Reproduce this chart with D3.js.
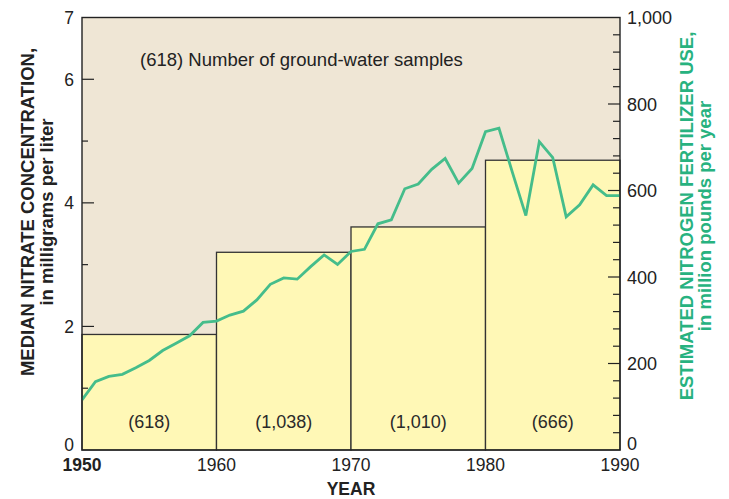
<!DOCTYPE html>
<html>
<head>
<meta charset="utf-8">
<script src="https://cdn.jsdelivr.net/npm/d3@7"></script>
<style>
  body { margin: 0; background: #fff; }
  svg text { font-family: "Liberation Sans", Arial, sans-serif; }
</style>
</head>
<body>
<svg id="chart" width="729" height="499"></svg>
<script>
// Decade bars: median nitrate concentration and sample counts
var decadeStarts = [1950, 1960, 1970, 1980];
var medianNitrate = [1.87, 3.2, 3.61, 4.69];
var sampleLabels = ["(618)", "(1,038)", "(1,010)", "(666)"];

// Yearly nitrogen fertilizer use, million pounds
var years = d3.range(1950, 1991);
var fertilizer = [
    116, 158, 170, 175, 190, 207, 230, 247, 264, 295,
    298, 312, 321, 347, 383, 398, 395, 424, 451, 429,
    459, 464, 523, 532, 604, 615, 649, 674, 617, 651,
    736, 744, 642, 542, 713, 676, 539, 567, 613, 588,
    588
];

var leftTicks = [0, 2, 4, 6, 7];
var leftMinor = [1, 3, 5];
var rightTicks = [0, 200, 400, 600, 800, 1000];
var xTicks = [1950, 1960, 1970, 1980, 1990];

var svg = d3.select("#chart");
var plotLeft = 82, plotRight = 620, plotTop = 17.5, plotBottom = 450;

var xScale = d3.scaleLinear().domain([1950, 1990]).range([plotLeft, plotRight]);
var yLeft = d3.scaleLinear().domain([0, 7]).range([plotBottom, plotTop]);
var yRight = d3.scaleLinear().domain([0, 1000]).range([plotBottom, plotTop]);

// Plot background
svg.append("rect")
    .attr("x", plotLeft)
    .attr("y", plotTop)
    .attr("width", plotRight - plotLeft)
    .attr("height", plotBottom - plotTop)
    .attr("fill", "#efe6d5");

// Decade bars
svg.selectAll("rect.bar")
    .data(decadeStarts)
    .enter()
    .append("rect")
    .attr("class", "bar")
    .attr("x", d => xScale(d))
    .attr("y", (d, i) => yLeft(medianNitrate[i]))
    .attr("width", d => xScale(d + 10) - xScale(d))
    .attr("height", (d, i) => plotBottom - yLeft(medianNitrate[i]))
    .attr("fill", "#fff8b6")
    .attr("stroke", "#333")
    .attr("stroke-width", 1.3);

svg.selectAll("text.count")
    .data(decadeStarts)
    .enter()
    .append("text")
    .attr("class", "count")
    .attr("x", d => xScale(d + 5))
    .attr("y", 428)
    .attr("text-anchor", "middle")
    .attr("font-size", 18)
    .attr("fill", "#2a2a2a")
    .text((d, i) => sampleLabels[i]);

// Fertilizer line
var line = d3.line()
    .x(d => xScale(d))
    .y((d, i) => yRight(fertilizer[i]));

svg.append("path")
    .datum(years)
    .attr("d", line)
    .attr("fill", "none")
    .attr("stroke", "#45bd8b")
    .attr("stroke-width", 2.8)
    .attr("stroke-linejoin", "miter");

// Frame
svg.append("rect")
    .attr("x", plotLeft)
    .attr("y", plotTop)
    .attr("width", plotRight - plotLeft)
    .attr("height", plotBottom - plotTop)
    .attr("fill", "none")
    .attr("stroke", "#222")
    .attr("stroke-width", 1.4);

// Left axis ticks (inward)
svg.selectAll("line.lmaj")
    .data([2, 4, 6])
    .enter()
    .append("line")
    .attr("x1", plotLeft).attr("x2", plotLeft + 12)
    .attr("y1", d => yLeft(d)).attr("y2", d => yLeft(d))
    .attr("stroke", "#222").attr("stroke-width", 1.2);

svg.selectAll("line.lmin")
    .data(leftMinor)
    .enter()
    .append("line")
    .attr("x1", plotLeft).attr("x2", plotLeft + 6)
    .attr("y1", d => yLeft(d)).attr("y2", d => yLeft(d))
    .attr("stroke", "#222").attr("stroke-width", 1.2);

svg.selectAll("text.lt")
    .data(leftTicks)
    .enter()
    .append("text")
    .attr("x", 74)
    .attr("y", d => d === 0 ? yLeft(d) + 1 : yLeft(d) + 6.5)
    .attr("text-anchor", "end")
    .attr("font-size", 17.5)
    .attr("fill", "#222")
    .text(d => d);

// Right axis ticks (inward), minor every 40
svg.selectAll("line.rt")
    .data(d3.range(40, 1000, 40))
    .enter()
    .append("line")
    .attr("x1", d => d % 200 === 0 ? plotRight - 12 : plotRight - 7)
    .attr("x2", plotRight)
    .attr("y1", d => yRight(d)).attr("y2", d => yRight(d))
    .attr("stroke", "#222").attr("stroke-width", 1.2);

svg.selectAll("text.rtl")
    .data(rightTicks)
    .enter()
    .append("text")
    .attr("x", 627)
    .attr("y", d => d === 0 ? yRight(d) : yRight(d) + 6.5)
    .attr("font-size", 18)
    .attr("fill", "#222")
    .text(d => d3.format(",")(d));

// Bottom axis labels
svg.selectAll("text.xt")
    .data(xTicks)
    .enter()
    .append("text")
    .attr("x", d => xScale(d))
    .attr("y", 470.5)
    .attr("text-anchor", "middle")
    .attr("font-size", 17.5)
    .attr("font-weight", d => d === 1950 ? "bold" : "normal")
    .attr("fill", "#222")
    .text(d => d);

svg.append("text")
    .attr("x", 351)
    .attr("y", 495)
    .attr("text-anchor", "middle")
    .attr("font-size", 17.5)
    .attr("font-weight", "bold")
    .attr("fill", "#222")
    .text("YEAR");

// Left axis title
var lt = svg.append("text")
    .attr("transform", "translate(33.5,212) rotate(-90)")
    .attr("text-anchor", "middle")
    .attr("font-size", 18.5)
    .attr("font-weight", "bold")
    .attr("fill", "#222");
lt.append("tspan").attr("x", 0).attr("y", 0).text("MEDIAN NITRATE CONCENTRATION,");
lt.append("tspan").attr("x", 0).attr("y", 19).text("in milligrams per liter");

// Right axis title
var rt = svg.append("text")
    .attr("transform", "translate(693,216) rotate(-90)")
    .attr("text-anchor", "middle")
    .attr("font-size", 18.5)
    .attr("font-weight", "bold")
    .attr("fill", "#27b27f");
rt.append("tspan").attr("x", 0).attr("y", 0).text("ESTIMATED NITROGEN FERTILIZER USE,");
rt.append("tspan").attr("x", 0).attr("y", 18).text("in million pounds per year");

// Legend note
svg.append("text")
    .attr("x", 140)
    .attr("y", 65.5)
    .attr("font-size", 18.5)
    .attr("fill", "#222")
    .text("(618) Number of ground-water samples");
</script>
</body>
</html>
